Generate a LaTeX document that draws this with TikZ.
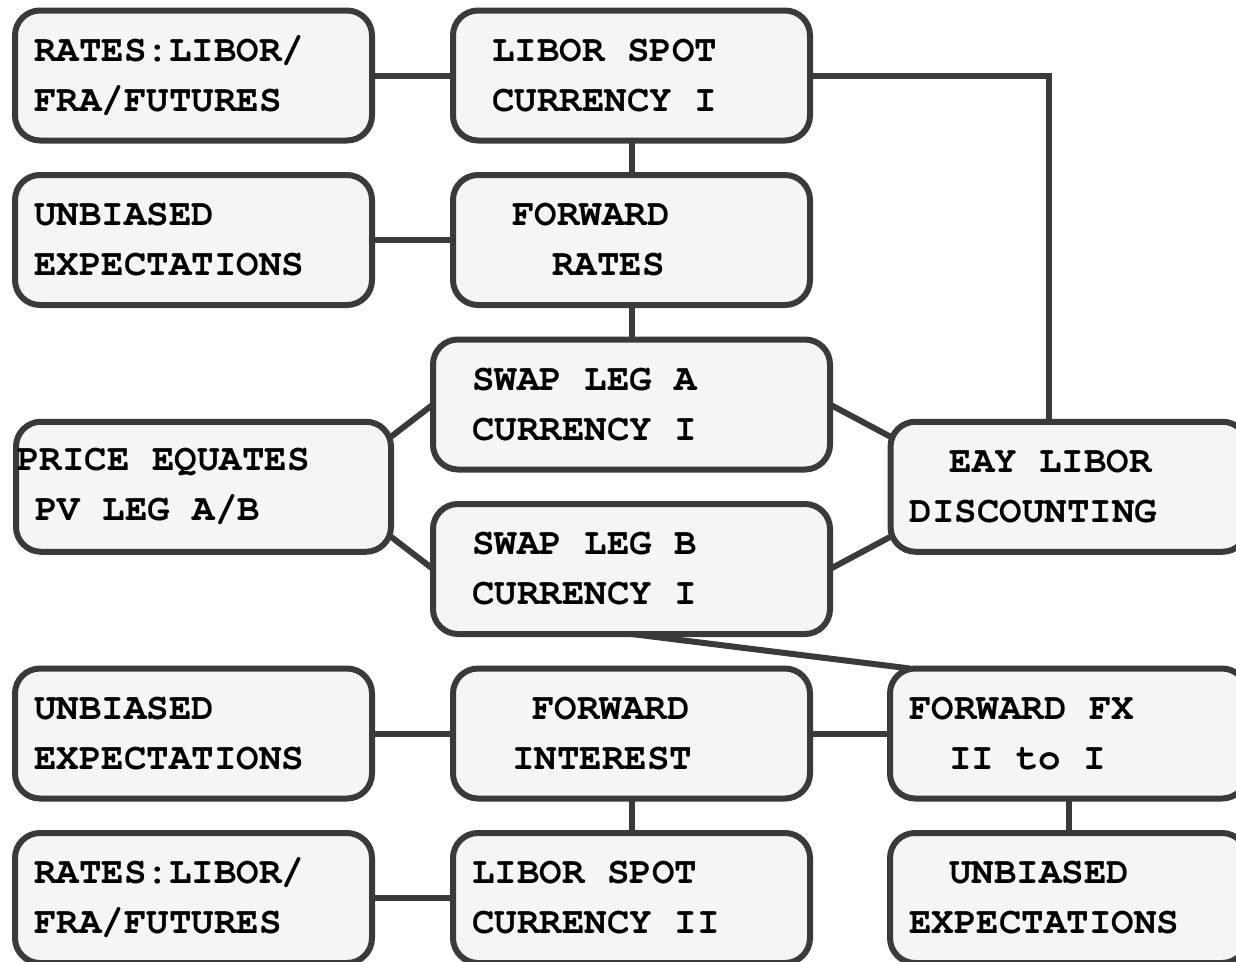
\documentclass[tikz,border=0pt]{standalone}
\usepackage{fontspec}
\setmonofont{TeX Gyre Cursor}
\usepackage{xcolor}
\usetikzlibrary{positioning,calc}
\definecolor{boxline}{HTML}{3A3A3A}
\definecolor{boxfill}{HTML}{F5F5F5}
\newcommand{\pad}[1]{\hspace*{#1pt}}

\begin{document}
\begin{tikzpicture}[x=1pt,y=-1pt,
  font=\ttfamily\bfseries\fontsize{37.5}{50}\selectfont,
  link/.style={draw=boxline,line width=6pt},
  box/.style={draw=boxline,fill=boxfill,line width=6pt,rounded corners=25pt,outer sep=0pt,
    align=left,text width=319pt,inner xsep=19pt,minimum height=130pt,
    execute at begin node={\spaceskip=22.5pt\relax}},
  legbox/.style={box,text width=359pt},
  pvbox/.style={box,text width=337pt}]
\path[use as bounding box,clip] (0,0) rectangle (1236,961);
% currency I side
\node[box] (ratesI) at (193.5,75.5) {RATES:LIBOR/\\FRA/FUTURES};
\node[box,right=81pt of ratesI] (spotI) {\pad{20}LIBOR SPOT\\\pad{20}CURRENCY I};
\node[box,below=34.5pt of spotI] (fwdrates) {\pad{40}FORWARD\\\pad{80}RATES};
\node[box,left=81pt of fwdrates] (unbI) {UNBIASED\\EXPECTATIONS};
% the two swap legs
\node[legbox,below=34.5pt of fwdrates] (legA) {\pad{20}SWAP LEG A\\\pad{20}CURRENCY I};
\node[legbox,below=34.5pt of legA] (legB) {\pad{20}SWAP LEG B\\\pad{20}CURRENCY I};
\node[pvbox,anchor=east] (price) at ($(legA.west)!0.5!(legB.west)+(-42,0)$)
  {\pad{-18}PRICE EQUATES\\PV LEG A/B};
\node[box,anchor=west] (eay) at ($(legA.east)!0.5!(legB.east)+(60.5,0)$)
  {\pad{40}EAY LIBOR\\DISCOUNTING};
% currency II side
\node[box,below=34.5pt of legB] (fwdint) {\pad{60}FORWARD\\\pad{40}INTEREST};
\node[box,left=81pt of fwdint] (unbII) {UNBIASED\\EXPECTATIONS};
\node[box,right=80pt of fwdint] (fwdfx) {FORWARD FX\\\pad{40}II to I};
\node[box,below=34.5pt of fwdint] (spotII) {LIBOR SPOT\\CURRENCY II};
\node[box,left=81pt of spotII] (ratesII) {RATES:LIBOR/\\FRA/FUTURES};
\node[box,below=34.5pt of fwdfx] (unbIII) {\pad{40}UNBIASED\\EXPECTATIONS};

\draw[link] (ratesI) -- (spotI);
\draw[link] (spotI) -- (fwdrates);
\draw[link] (spotI.east) -| ([xshift=-20pt]eay.north);
\draw[link] (unbI) -- (fwdrates);
\draw[link] (fwdrates) -- (legA);
\draw[link] ([yshift=50pt]price.east) -- (legA.west);
\draw[link] ([yshift=-50pt]price.east) -- (legB.west);
\draw[link] (legA.east) -- ([yshift=50pt]eay.west);
\draw[link] (legB.east) -- ([yshift=-50pt]eay.west);
\draw[link] (legB.south) -- ([xshift=20pt]fwdfx.north west);
\draw[link] (unbII) -- (fwdint);
\draw[link] (fwdint) -- (fwdfx);
\draw[link] (fwdint) -- (spotII);
\draw[link] (fwdfx) -- (unbIII);
\draw[link] (ratesII) -- (spotII);
\end{tikzpicture}
\end{document}
